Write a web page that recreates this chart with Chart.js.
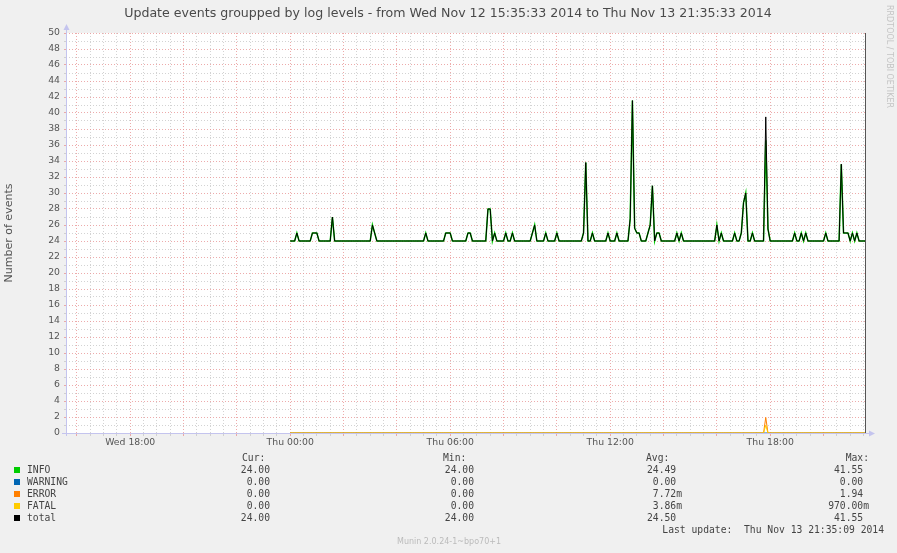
<!DOCTYPE html>
<html><head><meta charset="utf-8">
<script src="https://cdn.jsdelivr.net/npm/chart.js@4.4.0/dist/chart.umd.min.js"></script>
<style>html,body{margin:0;padding:0;background:#f0f0f0;}#wrap{width:897px;height:553px;position:relative;}</style>
</head><body><div id="wrap"><canvas id="c" width="897" height="553"></canvas></div>
<script>
// Time axis, minutes since Wed Nov 12 00:00 (window 15:35:33 -> Thu 21:35:33)
const xMin = 935.55;
const xMax = 2735.55;
const firstSample = 1440;   // Thu 00:00, 5-minute samples
const sampleStep = 5;

// INFO events per 5-minute sample, one row per hour (Thu 00:00 .. 21:35)
const info = [
  24,24,24,25,24,24,24,24,24,24,25,25,
  25,24,24,24,24,24,24,27,24,24,24,24,
  24,24,24,24,24,24,24,24,24,24,24,24,
  24,26,25,24,24,24,24,24,24,24,24,24,
  24,24,24,24,24,24,24,24,24,24,24,24,
  24,25,24,24,24,24,24,24,24,24,25,25,
  25,24,24,24,24,24,24,24,25,25,24,24,
  24,24,24,24,24,28,28,24,25,24,24,24,
  24,25,24,24,25,24,24,24,24,24,24,24,
  24,25,26,24,24,24,24,25,24,24,24,24,
  25,24,24,24,24,24,24,24,24,24,24,24,
  25,33.8,24,24,25,24,24,24,24,24,24,25,
  24,24,24,25,24,24,24,24,24,26.8,41.55,25.6,
  25,25,24,24,24,25,26,30.9,24,25,25,24,
  24,24,24,24,24,24,25,24,25,24,24,24,
  24,24,24,24,24,24,24,24,24,24,24,24,
  26,24,25,24,24,24,24,24,25,24,24,25,
  28.8,30,24,24,25,24,24,24,24,24,36.6,25.5,
  24,24,24,24,24,24,24,24,24,24,24,25,
  24,24,25,24,25,24,24,24,24,24,24,24,
  24,25,24,24,24,24,24,24,33.6,25,25,25,
  24,25,24,25,24,24,24,24
];
const warning = [
  0,0,0,0,0,0,0,0,0,0,0,0, 0,0,0,0,0,0,0,0,0,0,0,0,
  0,0,0,0,0,0,0,0,0,0,0,0, 0,0,0,0,0,0,0,0,0,0,0,0,
  0,0,0,0,0,0,0,0,0,0,0,0, 0,0,0,0,0,0,0,0,0,0,0,0,
  0,0,0,0,0,0,0,0,0,0,0,0, 0,0,0,0,0,0,0,0,0,0,0,0,
  0,0,0,0,0,0,0,0,0,0,0,0, 0,0,0,0,0,0,0,0,0,0,0,0,
  0,0,0,0,0,0,0,0,0,0,0,0, 0,0,0,0,0,0,0,0,0,0,0,0,
  0,0,0,0,0,0,0,0,0,0,0,0, 0,0,0,0,0,0,0,0,0,0,0,0,
  0,0,0,0,0,0,0,0,0,0,0,0, 0,0,0,0,0,0,0,0,0,0,0,0,
  0,0,0,0,0,0,0,0,0,0,0,0, 0,0,0,0,0,0,0,0,0,0,0,0,
  0,0,0,0,0,0,0,0,0,0,0,0, 0,0,0,0,0,0,0,0,0,0,0,0,
  0,0,0,0,0,0,0,0,0,0,0,0, 0,0,0,0,0,0,0,0
];
const error = [
  0,0,0,0,0,0,0,0,0,0,0,0, 0,0,0,0,0,0,0,0,0,0,0,0,
  0,0,0,0,0,0,0,0,0,0,0,0, 0,0,0,0,0,0,0,0,0,0,0,0,
  0,0,0,0,0,0,0,0,0,0,0,0, 0,0,0,0,0,0,0,0,0,0,0,0,
  0,0,0,0,0,0,0,0,0,0,0,0, 0,0,0,0,0,0,0,0,0,0,0,0,
  0,0,0,0,0,0,0,0,0,0,0,0, 0,0,0,0,0,0,0,0,0,0,0,0,
  0,0,0,0,0,0,0,0,0,0,0,0, 0,0,0,0,0,0,0,0,0,0,0,0,
  0,0,0,0,0,0,0,0,0,0,0,0, 0,0,0,0,0,0,0,0,0,0,0,0,
  0,0,0,0,0,0,0,0,0,0,0,0, 0,0,0,0,0,0,0,0,0,0,0,0,
  0,0,0,0,0,0,0,0,0,0,0,0, 0,0,0,0,0,0,0,0,0,0,1.94,0,
  0,0,0,0,0,0,0,0,0,0,0,0, 0,0,0,0,0,0,0,0,0,0,0,0,
  0,0,0,0,0,0,0,0,0,0,0,0, 0,0,0,0,0,0,0,0
];
const fatal = [
  0,0,0,0,0,0,0,0,0,0,0,0, 0,0,0,0,0,0,0,0,0,0,0,0,
  0,0,0,0,0,0,0,0,0,0,0,0, 0,0,0,0,0,0,0,0,0,0,0,0,
  0,0,0,0,0,0,0,0,0,0,0,0, 0,0,0,0,0,0,0,0,0,0,0,0,
  0,0,0,0,0,0,0,0,0,0,0,0, 0,0,0,0,0,0,0,0,0,0,0,0,
  0,0,0,0,0,0,0,0,0,0,0,0, 0,0,0,0,0,0,0,0,0,0,0,0,
  0,0,0,0,0,0,0,0,0,0,0,0, 0,0,0,0,0,0,0,0,0,0,0,0,
  0,0,0,0,0,0,0,0,0,0,0,0, 0,0,0,0,0,0,0,0,0,0,0,0,
  0,0,0,0,0,0,0,0,0,0,0,0, 0,0,0,0,0,0,0,0,0,0,0,0,
  0,0,0,0,0,0,0,0,0,0,0,0, 0,0,0,0,0,0,0,0,0,0,0.97,0,
  0,0,0,0,0,0,0,0,0,0,0,0, 0,0,0,0,0,0,0,0,0,0,0,0,
  0,0,0,0,0,0,0,0,0,0,0,0, 0,0,0,0,0,0,0,0
];
// total = sum of the levels (as Munin's CDEF does)
const total = info.map((v, i) => v + warning[i] + error[i] + fatal[i]);
const times = info.map((_, i) => firstSample + i * sampleStep);

// Axis ticks
const xTickValues = [1080, 1440, 1800, 2160, 2520];
const xTickLabels = ['Wed 18:00', 'Thu 00:00', 'Thu 06:00', 'Thu 12:00', 'Thu 18:00'];
const xGridStep = 30, xMajorStep = 120;
const yTickLabels = ['0','2','4','6','8','10','12','14','16','18','20','22','24','26','28','30','32','34','36','38','40','42','44','46','48','50'];

// Legend table
const legendNames = ['INFO', 'WARNING', 'ERROR', 'FATAL', 'total'];
const legendColors = ['#00CC00', '#0066B3', '#FF8000', '#FFCC00', '#000000'];
const curVals = ['24.00', '0.00', '0.00', '0.00', '24.00'];
const minVals = ['24.00', '0.00', '0.00', '0.00', '24.00'];
const avgVals = ['24.49 ', '0.00 ', '7.72m', '3.86m', '24.50 '];
const maxVals = ['41.55 ', '0.00 ', '1.94 ', '970.00m', '41.55 '];

const titleText = 'Update events groupped by log levels - from Wed Nov 12 15:35:33 2014 to Thu Nov 13 21:35:33 2014';
const yTitle = 'Number of events';
const lastUpdate = 'Last update:  Thu Nov 13 21:35:09 2014';
const muninVer = 'Munin 2.0.24-1~bpo70+1';
const sideText = 'RRDTOOL / TOBI OETIKER';

const MAJOR = 'rgba(232,150,150,0.8)';
const MINOR = 'rgba(200,200,200,0.8)';
const AXIS = '#c4c4ee';

const xGrid = [];
for (let v = Math.ceil(xMin / xGridStep) * xGridStep; v <= xMax; v += xGridStep) xGrid.push(v);
const yGrid = [];
for (let v = 0; v <= 50; v++) yGrid.push(v);

const bgPlugin = {
  id: 'bg',
  beforeDraw(chart) {
    const {ctx, chartArea: a} = chart;
    ctx.save();
    ctx.fillStyle = '#f0f0f0';
    ctx.fillRect(0, 0, chart.width, chart.height);
    ctx.fillStyle = '#ffffff';
    ctx.fillRect(a.left, a.top, a.right - a.left, a.bottom - a.top);
    ctx.restore();
  },
  beforeDatasetsDraw(chart) {
    const {ctx, chartArea: a} = chart;
    ctx.save();
    ctx.strokeStyle = AXIS; ctx.fillStyle = AXIS; ctx.lineWidth = 1;
    ctx.beginPath();
    ctx.moveTo(a.left + 0.5, a.bottom + 3); ctx.lineTo(a.left + 0.5, a.top - 5);
    ctx.moveTo(a.left - 4, a.bottom + 0.5); ctx.lineTo(a.right + 4, a.bottom + 0.5);
    ctx.stroke();
    ctx.beginPath();
    ctx.moveTo(a.left + 0.5, a.top - 9); ctx.lineTo(a.left - 2.5, a.top - 3); ctx.lineTo(a.left + 3.5, a.top - 3); ctx.closePath();
    ctx.fill();
    ctx.beginPath();
    ctx.moveTo(a.right + 9, a.bottom + 0.5); ctx.lineTo(a.right + 3, a.bottom - 2.5); ctx.lineTo(a.right + 3, a.bottom + 3.5); ctx.closePath();
    ctx.fill();
    ctx.restore();
  },
  afterDraw(chart) {
    const {ctx, chartArea: a} = chart;
    ctx.save();
    // right border
    ctx.strokeStyle = '#555'; ctx.lineWidth = 1;
    ctx.beginPath(); ctx.moveTo(a.right - 0.5, a.top); ctx.lineTo(a.right - 0.5, a.bottom); ctx.stroke();
    // title
    ctx.fillStyle = '#4a4a4a';
    ctx.font = '12.6px "DejaVu Sans"';
    ctx.textAlign = 'center'; ctx.textBaseline = 'middle';
    ctx.fillText(titleText, 448, 14);
    // side text
    ctx.save();
    ctx.translate(889, 5);
    ctx.rotate(Math.PI / 2);
    ctx.fillStyle = '#c4c4c4';
    ctx.font = '8px "DejaVu Sans"';
    ctx.textAlign = 'left'; ctx.textBaseline = 'middle';
    ctx.fillText(sideText, 0, 0);
    ctx.restore();
    // legend table
    ctx.font = '9.7px "DejaVu Sans Mono"';
    ctx.textBaseline = 'middle';
    ctx.fillStyle = '#444';
    ctx.textAlign = 'left';
    ctx.fillText('Cur:', 242, 458);
    ctx.fillText('Min:', 443, 458);
    ctx.fillText('Avg:', 646, 458);
    ctx.textAlign = 'right';
    ctx.fillText('Max:', 869, 458);
    for (let i = 0; i < legendNames.length; i++) {
      const y = 470 + i * 12;
      ctx.fillStyle = legendColors[i];
      ctx.fillRect(14, y - 3, 6, 6);
      ctx.fillStyle = '#444';
      ctx.textAlign = 'left';
      ctx.fillText(legendNames[i], 27, y);
      ctx.textAlign = 'right';
      ctx.fillText(curVals[i], 270, y);
      ctx.fillText(minVals[i], 474, y);
      ctx.fillText(avgVals[i], 682, y);
      ctx.fillText(maxVals[i], 869, y);
    }
    ctx.textAlign = 'right';
    ctx.fillText(lastUpdate, 884, 530);
    ctx.fillStyle = '#bbbbbb';
    ctx.font = '8px "DejaVu Sans"';
    ctx.textAlign = 'center';
    ctx.fillText(muninVer, 449, 542);
    ctx.restore();
  }
};

const gridColor = (step) => (c) => (c.tick && Math.abs(c.tick.value % step) < 1e-6) ? MAJOR : MINOR;

new Chart(document.getElementById('c'), {
  type: 'line',
  data: {
    labels: times,
    datasets: [
      { label: 'total', data: total, borderColor: '#000000', borderWidth: 1, order: 0 },
      { label: 'FATAL', data: fatal, borderColor: '#FFCC00', borderWidth: 1, order: 1 },
      { label: 'ERROR', data: error, borderColor: '#FF8000', borderWidth: 1, order: 2 },
      { label: 'WARNING', data: warning, borderColor: '#0066B3', borderWidth: 1, order: 3 },
      { label: 'INFO', data: info, borderColor: '#00CC00', borderWidth: 1.5, order: 4 }
    ]
  },
  plugins: [bgPlugin],
  options: {
    responsive: false,
    animation: false,
    devicePixelRatio: 1,
    layout: { padding: { top: 33, right: 31, bottom: 100, left: 0 } },
    elements: { point: { radius: 0 }, line: { tension: 0, fill: false } },
    plugins: { legend: { display: false }, tooltip: { enabled: false }, title: { display: false } },
    scales: {
      x: {
        type: 'linear', min: xMin, max: xMax,
        afterBuildTicks: (s) => { s.ticks = xGrid.map(v => ({ value: v })); },
        afterFit: (s) => { s.height = 20; },
        ticks: {
          autoSkip: false, maxRotation: 0, minRotation: 0, padding: 1,
          color: '#555', font: { family: 'DejaVu Sans', size: 9.3 },
          callback: (v) => { const i = xTickValues.indexOf(v); return i >= 0 ? xTickLabels[i] : ''; }
        },
        grid: { color: gridColor(xMajorStep), tickColor: gridColor(xMajorStep), lineWidth: 1, tickLength: 3, drawTicks: true },
        border: { display: false, dash: [1, 2] }
      },
      y: {
        type: 'linear', min: 0, max: 50,
        afterBuildTicks: (s) => { s.ticks = yGrid.map(v => ({ value: v })); },
        afterFit: (s) => { s.width = 66; },
        ticks: {
          autoSkip: false, padding: 4,
          color: '#555', font: { family: 'DejaVu Sans', size: 9.3 },
          callback: (v) => (v % 2 === 0 ? yTickLabels[v / 2] : '')
        },
        grid: { color: gridColor(2), tickColor: gridColor(2), lineWidth: 1, tickLength: 2, drawTicks: true },
        border: { display: false, dash: [1, 2] },
        title: { display: true, text: yTitle, color: '#555', font: { family: 'DejaVu Sans', size: 11 }, padding: { top: 3, bottom: 0 } }
      }
    }
  }
});
</script></body></html>
